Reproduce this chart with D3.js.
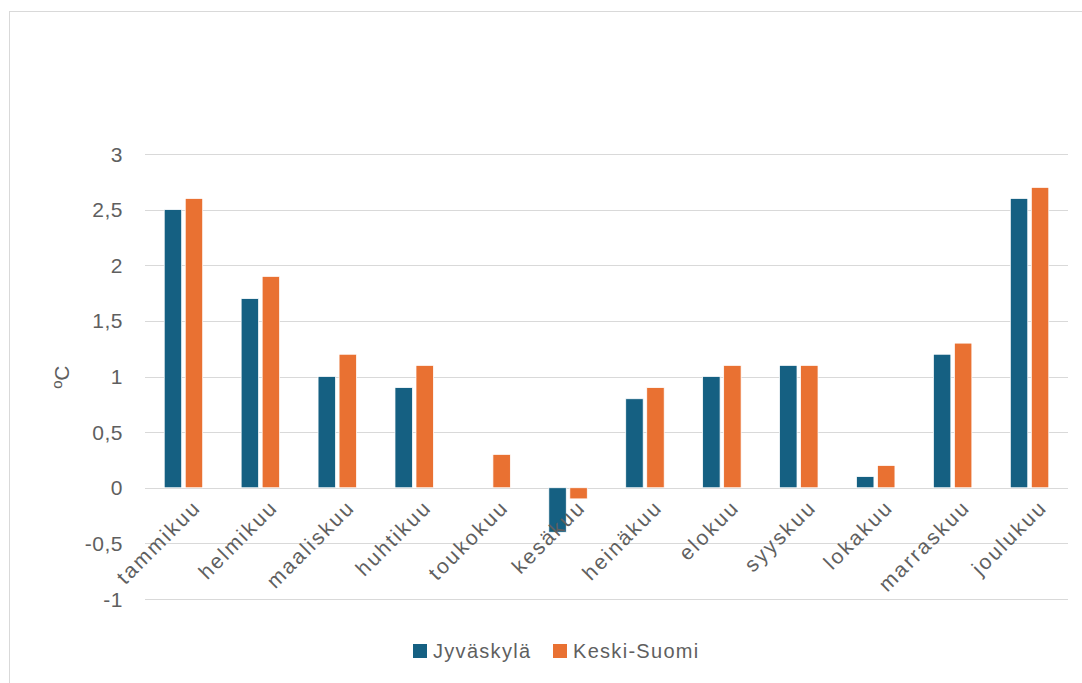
<!DOCTYPE html>
<html>
<head>
<meta charset="utf-8">
<script src="https://cdn.jsdelivr.net/npm/d3@7"></script>
<style>
  body { margin: 0; background: #fff; }
  text { font-family: "Liberation Sans", Arial, sans-serif; fill: #5f5f5f; }
</style>
</head>
<body>
<div id="here"></div>
<script>
var w = 1082, h = 683;

var months = ['tammikuu', 'helmikuu', 'maaliskuu', 'huhtikuu', 'toukokuu', 'kesäkuu',
              'heinäkuu', 'elokuu', 'syyskuu', 'lokakuu', 'marraskuu', 'joulukuu'];
var jyvaskyla = [2.5, 1.7, 1.0, 0.9, 0, -0.4, 0.8, 1.0, 1.1, 0.1, 1.2, 2.6];
var keskiSuomi = [2.6, 1.9, 1.2, 1.1, 0.3, -0.1, 0.9, 1.1, 1.1, 0.2, 1.3, 2.7];
var seriesNames = ['Jyväskylä', 'Keski-Suomi'];
var colors = ['#156082', '#e97132'];
var yTicks = [-1, -0.5, 0, 0.5, 1, 1.5, 2, 2.5, 3];

var plotL = 145, plotR = 1068, plotT = 154, plotB = 599;

var svg = d3.select('#here').append('svg')
  .attr('width', w)
  .attr('height', h);

// chart frame
svg.append('rect')
  .attr('x', 9.5).attr('y', 11.5)
  .attr('width', w).attr('height', h)
  .attr('fill', 'none')
  .attr('stroke', '#d9d9d9');

var y = d3.scaleLinear().domain([-1, 3]).range([plotB, plotT]);
var x = d3.scaleBand().domain(months).range([plotL, plotR]).paddingInner(0.5).paddingOuter(0.25);
var x1 = d3.scaleBand().domain([0, 1]).range([0, x.bandwidth()]).padding(0.17).paddingOuter(0);

// gridlines
svg.append('g').selectAll('line')
  .data(yTicks).enter().append('line')
  .attr('x1', plotL).attr('x2', plotR)
  .attr('y1', function(d) { return Math.round(y(d)) + 0.5; })
  .attr('y2', function(d) { return Math.round(y(d)) + 0.5; })
  .attr('stroke', '#d9d9d9')
  .attr('stroke-width', 1);

// y tick labels
svg.append('g').selectAll('text')
  .data(yTicks).enter().append('text')
  .attr('x', 123)
  .attr('y', function(d) { return y(d); })
  .attr('dy', '0.36em')
  .attr('text-anchor', 'end')
  .style('font-size', '21px')
  .style('letter-spacing', '0.5px')
  .text(function(d) { return String(d).replace('.', ','); });

// y axis title
svg.append('text')
  .attr('transform', 'translate(69,377) rotate(-90)')
  .attr('text-anchor', 'middle')
  .style('font-size', '21px')
  .text('ºC');

// bars
var series = [jyvaskyla, keskiSuomi];
series.forEach(function(vals, s) {
  svg.append('g').selectAll('rect')
    .data(vals).enter().append('rect')
    .attr('x', function(d, i) { return x(months[i]) + x1(s); })
    .attr('width', x1.bandwidth())
    .attr('y', function(d) { return y(Math.max(0, d)); })
    .attr('height', function(d) { return Math.abs(y(d) - y(0)); })
    .attr('fill', colors[s])
    .attr('stroke', '#fff')
    .attr('stroke-width', 0.75);
});

// x labels (rotated)
svg.append('g').selectAll('text')
  .data(months).enter().append('text')
  .attr('transform', function(d) {
    var cx = x(d) + x.bandwidth() / 2 + 8;
    return 'translate(' + cx + ',' + 498 + ') rotate(-45)';
  })
  .attr('text-anchor', 'end')
  .attr('dy', '0.72em')
  .style('font-size', '21px')
  .style('letter-spacing', '2.2px')
  .text(function(d) { return d; });

// legend
var legend = svg.append('g').attr('transform', 'translate(413,651)');
var lx = [0, 140];
seriesNames.forEach(function(name, s) {
  legend.append('rect')
    .attr('x', lx[s]).attr('y', -7)
    .attr('width', 14).attr('height', 14)
    .attr('fill', colors[s]);
  legend.append('text')
    .attr('x', lx[s] + 20).attr('y', 0)
    .attr('dy', '0.36em')
    .style('font-size', '20px')
    .style('letter-spacing', '1.3px')
    .text(name);
});
</script>
</body>
</html>
